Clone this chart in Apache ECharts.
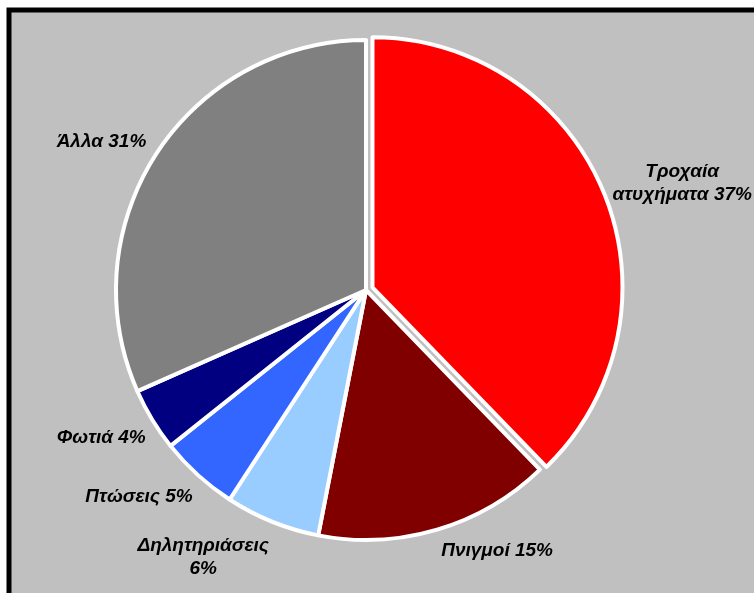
<!DOCTYPE html>
<html>
<head>
<meta charset="utf-8">
<script src="https://cdn.jsdelivr.net/npm/echarts@6/dist/echarts.min.js"></script>
<style>
  html, body { margin: 0; padding: 0; background: #ffffff; }
  #chart { width: 754px; height: 593px; }
</style>
</head>
<body>
<div id="chart"></div>
<script>
// Causes of accidental deaths (percent)
const categories = ['Τροχαία\nατυχήματα', 'Πνιγμοί', 'Δηλητηριάσεις', 'Πτώσεις', 'Φωτιά', 'Άλλα'];
const shares = [37, 15, 6, 5, 4, 31];
const sliceColors = ['#FF0000', '#800000', '#99CCFF', '#3366FF', '#000080', '#808080'];
// text between the name and its percentage
const labelSeparators = [' ', ' ', '\n', ' ', ' ', ' '];
// shift of each label from the slice rim, in px
const labelNudge = [[78, -10], [60, 21], [-69, 36], [-59, 22], [-51, 18], [-55, -12]];

const chart = echarts.init(document.getElementById('chart'), null, { renderer: 'canvas' });

const pieData = categories.map((name, i) => ({
  name: name,
  value: shares[i],
  selected: i === 0,
  itemStyle: { color: sliceColors[i] }
}));

chart.setOption({
  animation: false,
  backgroundColor: '#ffffff',
  graphic: [{
    type: 'rect',
    z: -10,
    silent: true,
    shape: { x: 9, y: 10, width: 800, height: 650 },
    style: { fill: '#C0C0C0', stroke: '#000000', lineWidth: 5 }
  }],
  series: [{
    type: 'pie',
    center: [366, 290],
    radius: 250,
    startAngle: 90,
    clockwise: true,
    selectedMode: 'single',
    selectedOffset: 7,
    avoidLabelOverlap: false,
    emphasis: { disabled: true },
    itemStyle: { borderColor: '#ffffff', borderWidth: 4 },
    label: {
      show: true,
      position: 'outside',
      distanceToLabelLine: 0,
      color: '#000000',
      fontFamily: '"Liberation Sans", Arial, sans-serif',
      fontSize: 19,
      fontWeight: 'bold',
      fontStyle: 'italic',
      lineHeight: 23,
      formatter: p => p.name + labelSeparators[p.dataIndex] + p.value + '%'
    },
    labelLine: { show: false, length: 0, length2: 0 },
    labelLayout: p => ({
      dx: labelNudge[p.dataIndex][0],
      dy: labelNudge[p.dataIndex][1],
      align: 'center',
      verticalAlign: 'middle'
    }),
    data: pieData
  }]
});
</script>
</body>
</html>
